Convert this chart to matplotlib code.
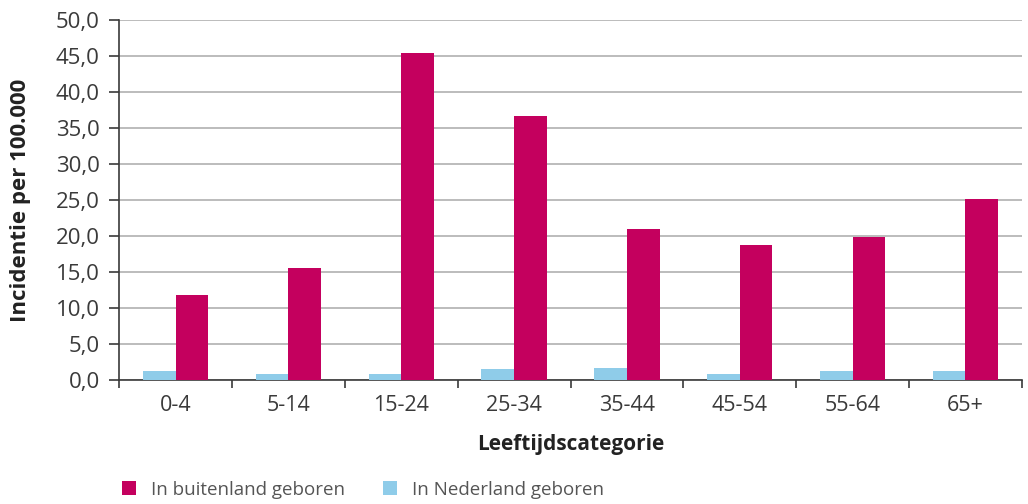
import matplotlib
matplotlib.use("Agg")
import matplotlib.pyplot as plt
import numpy as np

plt.rcParams['font.family'] = ['Open Sans', 'DejaVu Sans']

categories = ['0-4', '5-14', '15-24', '25-34', '35-44', '45-54', '55-64', '65+']
buitenland = [11.8, 15.6, 45.4, 36.7, 21.0, 18.8, 19.9, 25.2]
nederland = [1.3, 0.9, 0.9, 1.6, 1.7, 0.8, 1.2, 1.3]
yticks = np.arange(0, 50.1, 5)

magenta = '#c4005e'
lightblue = '#8fcce9'
dark = '#3a3a3a'

fig = plt.figure(figsize=(10.28, 5.04), dpi=100)
ax = fig.add_axes([0.116, 0.246, 0.878, 0.714])

x = np.arange(len(categories))
w = 0.29
ax.bar(x - w / 2, nederland, w, color=lightblue, label='In Nederland geboren', zorder=3)
ax.bar(x + w / 2, buitenland, w, color=magenta, label='In buitenland geboren', zorder=3)

ax.set_xlim(-0.5, len(categories) - 0.5)
ax.set_ylim(0, 50)
ax.set_yticks(yticks)
ax.set_yticklabels([f'{v:.1f}'.replace('.', ',') for v in yticks], fontsize=16, color=dark)
ax.yaxis.grid(True, color='#b0b0b0', linewidth=1.2, zorder=0)

# category labels centred, tick marks between categories
ax.set_xticks(x)
ax.set_xticklabels(categories, fontsize=15.5, color=dark)
ax.tick_params(axis='x', which='major', length=0, pad=11)
ax.set_xticks(np.arange(-0.5, len(categories), 1), minor=True)
ax.tick_params(axis='x', which='minor', length=6, width=1.2, color=dark)
ax.tick_params(axis='y', length=7, width=1.2, color=dark, pad=7)

for s in ['top', 'right']:
    ax.spines[s].set_visible(False)
for s in ['left', 'bottom']:
    ax.spines[s].set_color(dark)
    ax.spines[s].set_linewidth(1.2)

ax.set_xlabel('Leeftijdscategorie', fontsize=15, fontweight='bold', color='#222222', labelpad=13)
ax.set_ylabel('Incidentie per 100.000', fontsize=16, fontweight='bold', color='#222222', labelpad=18)

handles, labels = ax.get_legend_handles_labels()
fig.legend(handles[::-1], labels[::-1], loc='center left', bbox_to_anchor=(0.119, 0.028),
           ncol=2, frameon=False, fontsize=13.5, handlelength=0.75, handleheight=0.75,
           columnspacing=2.0, handletextpad=0.8, labelcolor='#555555',
           borderpad=0, borderaxespad=0)

fig.savefig('out.png', dpi=100)
